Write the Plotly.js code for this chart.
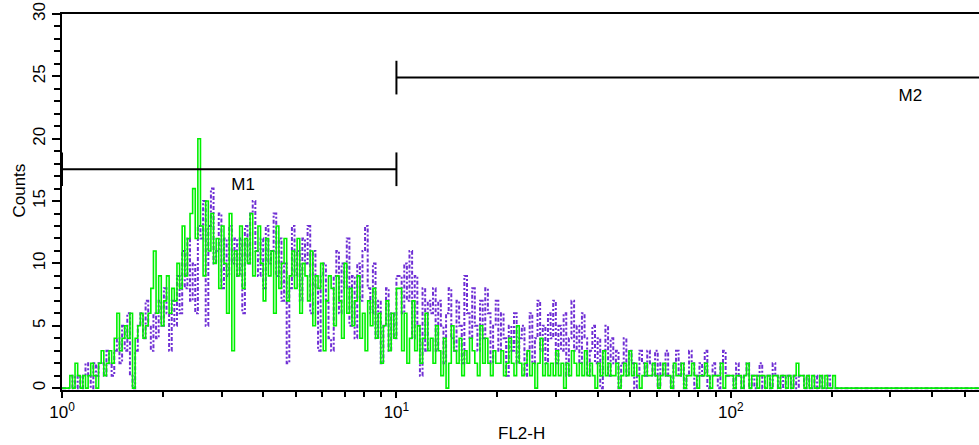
<!DOCTYPE html>
<html>
<head>
<meta charset="utf-8">
<script src="https://cdn.plot.ly/plotly-3.0.1.min.js"></script>
<style>
html,body{margin:0;padding:0;background:#fff;}
#chart{width:979px;height:445px;}
</style>
</head>
<body>
<div id="chart"></div>
<script>
// Histogram channels: 256 channels per decade, every 2nd channel sampled
const CHANNELS_PER_DECADE = 256;
const CHANNEL_STEP = 2;

// Green (solid) series counts
const greenCounts = [
  0,0,0,1,0,2,1,0,
  1,0,1,2,1,0,2,
  3,1,2,3,2,4,
  6,3,4,5,4,6,
  0,4,
  5,6,4,5,6,
  8,11,6,9,
  5,7,9,6,8,7,
  10,8,13,9,12,14,
  16,12,20,
  13,9,15,11,14,10,
  12,8,13,10,6,14,3,11,
  9,13,8,12,10,14,9,11,13,
  10,7,12,9,11,6,13,8,10,12,7,9,
  11,8,12,6,10,9,7,11,5,9,8,10,3,7,9,
  8,5,9,7,4,10,6,8,5,7,9,4,
  6,3,7,5,8,4,6,2,5,7,3,6,4,8,
  8,3,6,2,4,7,3,5,2,4,6,3,
  4,2,5,3,1,4,0,2,5,3,2,4,1,3,2,4,
  3,2,1,5,2,4,2,1,3,2,2,3,1,2,4,2,1,5,2,1,2,3,1,2,0,2,4,1,2,1,
  2,1,3,1,2,0,2,1,3,2,1,2,1,3,1,2,1,0,2,1,3,1,2,1,1,2,0,1,2,1,3,1,2,1,0,1,2,1,
  1,2,1,0,1,2,1,1,0,2,1,1,2,0,1,1,2,1,0,1,1,2,1,0,1,1,1,2,0,1,1,
  1,0,1,1,0,1,2,0,1,1,0,1,1,0,1,0,1,1,0,1,1,0,1,0,1,2,1,
  1,0,1,0,1,0,0,1,0,1,0,0,1,0,0
];

// Purple (dash-dot) series counts
const purpleCounts = [
  0,0,0,0,1,0,1,0,
  1,2,1,0,2,1,2,
  2,1,3,2,1,3,
  4,2,5,3,6,1,
  0,3,
  5,6,4,7,5,
  3,6,4,7,
  5,8,6,3,7,5,
  9,6,11,8,12,7,
  10,6,13,
  12,15,5,13,16,10,
  11,14,8,12,9,13,10,12,
  9,12,6,13,10,14,15,11,9,
  12,8,13,10,11,14,9,12,7,10,2,8,
  13,9,11,7,12,10,13,6,11,8,3,9,10,7,4,
  3,9,11,6,10,8,12,5,9,4,10,7,
  11,13,8,6,10,4,7,2,5,8,3,6,4,9,
  9,6,10,7,11,4,9,5,1,8,3,7,
  6,8,3,7,5,2,6,8,4,3,7,5,2,9,6,4,
  8,5,3,7,4,8,6,2,5,7,3,6,4,1,5,3,6,2,4,5,1,3,6,2,4,7,3,5,2,6,
  4,7,2,5,3,6,1,4,7,3,5,2,6,4,1,3,5,2,4,0,3,5,1,4,2,3,0,2,4,1,3,2,0,1,3,2,1,3,
  2,1,3,0,2,1,3,1,0,2,3,1,2,0,1,3,2,0,1,2,1,3,0,1,2,1,0,2,3,1,1,
  1,0,2,1,0,1,2,0,1,0,1,2,0,1,1,0,2,1,0,1,0,1,1,0,1,0,1,
  1,0,1,0,0,1,0,1,0,0,1,0,0,0,0
];

// Marker regions
const markerNames = ['M1', 'M2'];
const markerStart = [1, 10];
const markerEnd = [10, 1000];
const markerLevel = [17.55, 24.9];
const markerLabelX = [3.48, 344];
const markerLabelY = [16.2, 23.4];

// Axis ticks
const xTickVals = [1, 10, 100];
const xTickText = ['10<sup>0</sup>', '10<sup>1</sup>', '10<sup>2</sup>'];
const xMinorVals = [2,3,4,5,6,7,8,9,20,30,40,50,60,70,80,90,200,300,400,500,600];
const yTickVals = [0, 5, 10, 15, 20, 25, 30];

const X_MAX_LOG = 2.742;

function channelX(n) {
  const xs = [];
  for (let i = 0; i < n; i++) xs.push(Math.pow(10, i * CHANNEL_STEP / CHANNELS_PER_DECADE));
  xs.push(Math.pow(10, X_MAX_LOG + 0.05));
  return xs;
}

const gx = channelX(greenCounts.length);
const px = channelX(purpleCounts.length);

const traces = [
  {
    x: px, y: purpleCounts.concat([0]), type: 'scatter', mode: 'lines',
    line: {shape: 'hv', color: '#6f2fd4', width: 2, dash: '4px,2px,2px,2px'},
    hoverinfo: 'skip', showlegend: false, cliponaxis: true
  },
  {
    x: gx, y: greenCounts.concat([0]), type: 'scatter', mode: 'lines',
    line: {shape: 'hv', color: '#00f000', width: 1.6},
    hoverinfo: 'skip', showlegend: false
  }
];

// Marker bars
for (let m = 0; m < markerNames.length; m++) {
  const y = markerLevel[m];
  traces.push({
    x: [markerStart[m], markerEnd[m]], y: [y, y], type: 'scatter', mode: 'lines',
    line: {color: '#000', width: 2}, hoverinfo: 'skip', showlegend: false
  });
  traces.push({
    x: [markerStart[m], markerStart[m]], y: [y - 1.35, y + 1.35], type: 'scatter', mode: 'lines',
    line: {color: '#000', width: 2}, hoverinfo: 'skip', showlegend: false
  });
  if (markerEnd[m] < Math.pow(10, X_MAX_LOG)) {
    traces.push({
      x: [markerEnd[m], markerEnd[m]], y: [y - 1.35, y + 1.35], type: 'scatter', mode: 'lines',
      line: {color: '#000', width: 2}, hoverinfo: 'skip', showlegend: false
    });
  }
  traces.push({
    x: [markerLabelX[m]], y: [markerLabelY[m]], type: 'scatter', mode: 'text',
    text: [markerNames[m]], textposition: 'middle center',
    textfont: {family: 'Liberation Sans, Arial, sans-serif', size: 17, color: '#000'},
    hoverinfo: 'skip', showlegend: false
  });
}

const font = {family: 'Liberation Sans, Arial, sans-serif', size: 17, color: '#000'};

const layout = {
  width: 979, height: 445,
  margin: {l: 62, r: 0, t: 14, b: 55, pad: 0},
  paper_bgcolor: '#fff', plot_bgcolor: '#fff',
  font: font,
  showlegend: false,
  xaxis: {
    type: 'log', range: [0, X_MAX_LOG],
    showline: true, linecolor: '#000', linewidth: 2, mirror: true,
    showgrid: false, zeroline: false,
    ticks: 'outside', ticklen: 6, tickwidth: 2, tickcolor: '#000',
    tickmode: 'array', tickvals: xTickVals, ticktext: xTickText,
    tickfont: font,
    minor: {tickmode: 'array', tickvals: xMinorVals, ticks: 'outside', ticklen: 5, tickwidth: 2, tickcolor: '#000', showgrid: false}
  },
  yaxis: {
    range: [-0.15, 30],
    showline: true, linecolor: '#000', linewidth: 2,
    showgrid: false, zeroline: false,
    ticks: 'outside', ticklen: 8, tickwidth: 2, tickcolor: '#000',
    tickmode: 'array', tickvals: yTickVals,
    tickangle: -90, tickfont: font,
    minor: {tick0: 0, dtick: 1, ticks: 'outside', ticklen: 6, tickwidth: 2, tickcolor: '#000', showgrid: false}
  },
  annotations: [
    {text: 'Counts', xref: 'paper', yref: 'paper', x: -0.046, y: 0.53, xanchor: 'center', yanchor: 'middle',
     textangle: -90, showarrow: false, font: font},
    {text: 'FL2-H', xref: 'paper', yref: 'paper', x: 0.501, y: -0.115, xanchor: 'center', yanchor: 'middle',
     showarrow: false, font: font}
  ]
};

Plotly.newPlot('chart', traces, layout, {displayModeBar: false, staticPlot: true});
</script>
</body>
</html>
